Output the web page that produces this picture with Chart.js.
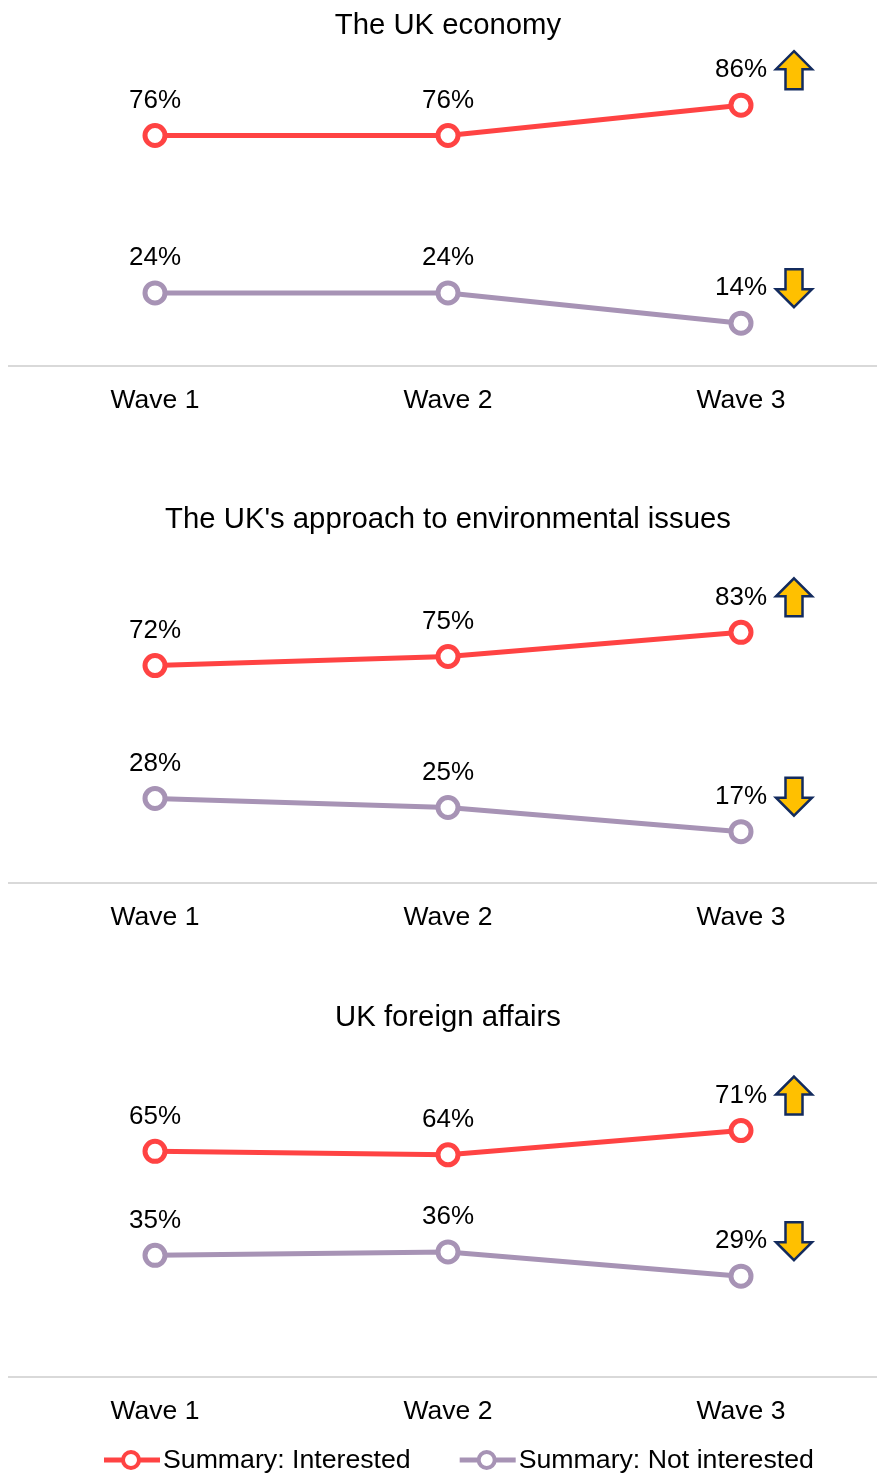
<!DOCTYPE html>
<html>
<head>
<meta charset="utf-8">
<script src="https://cdn.jsdelivr.net/npm/chart.js@4/dist/chart.umd.min.js"></script>
<style>
  html, body { margin: 0; padding: 0; background: #fff; width: 877px; height: 1475px; overflow: hidden; }
  .panel { position: absolute; left: 0; width: 890px; }
  canvas { display: block; }
</style>
</head>
<body>
<div class="panel" style="top:0px"><canvas id="economy" width="890" height="440"></canvas></div>
<div class="panel" style="top:440px"><canvas id="environment" width="890" height="516"></canvas></div>
<div class="panel" style="top:956px"><canvas id="foreign" width="890" height="519"></canvas></div>
<script>
// ---- data ----
const waves = ['Wave 1', 'Wave 2', 'Wave 3'];
const seriesNames = ['Summary: Interested', 'Summary: Not interested'];

const economyTitle = 'The UK economy';
const economyInterested = [76, 76, 86];
const economyNotInterested = [24, 24, 14];
const economyChange = ['up', 'down'];

const environmentTitle = "The UK's approach to environmental issues";
const environmentInterested = [72, 75, 83];
const environmentNotInterested = [28, 25, 17];
const environmentChange = ['up', 'down'];

const foreignTitle = 'UK foreign affairs';
const foreignInterested = [65, 64, 71];
const foreignNotInterested = [35, 36, 29];
const foreignChange = ['up', 'down'];

// ---- styling ----
const FONT = '"Liberation Sans", Arial, Helvetica, sans-serif';
const RED = '#FF4343';
const PURPLE = '#A793B5';
const seriesColors = [RED, PURPLE];

// value labels above every point
const valueLabels = {
  id: 'valueLabels',
  afterDatasetsDraw(chart) {
    const ctx = chart.ctx;
    ctx.save();
    ctx.font = '26px ' + FONT;
    ctx.fillStyle = '#000';
    ctx.textAlign = 'center';
    ctx.textBaseline = 'middle';
    chart.data.datasets.forEach((ds, i) => {
      chart.getDatasetMeta(i).data.forEach((pt, j) => {
        ctx.fillText(ds.data[j] + '%', pt.x, pt.y - 35);
      });
    });
    ctx.restore();
  }
};

// yellow up/down arrows beside the latest wave
function drawArrow(ctx, cx, cy, dir) {
  const s = dir === 'up' ? -1 : 1;   // tip direction
  const hw = 18, sw = 8.5, head = 18, shaft = 20;
  const back = cy - s * (head + shaft) / 2;
  const tip = cy + s * (head + shaft) / 2;
  const wing = tip - s * head;
  ctx.beginPath();
  ctx.moveTo(cx, tip);
  ctx.lineTo(cx + hw, wing);
  ctx.lineTo(cx + sw, wing);
  ctx.lineTo(cx + sw, back);
  ctx.lineTo(cx - sw, back);
  ctx.lineTo(cx - sw, wing);
  ctx.lineTo(cx - hw, wing);
  ctx.closePath();
  ctx.fillStyle = '#FFC000';
  ctx.fill();
  ctx.lineWidth = 2.5;
  ctx.lineJoin = 'miter';
  ctx.strokeStyle = '#132B5E';
  ctx.stroke();
}

const trendArrows = {
  id: 'trendArrows',
  afterDatasetsDraw(chart, args, opts) {
    const ctx = chart.ctx;
    ctx.save();
    (opts.directions || []).forEach((dir, i) => {
      const pts = chart.getDatasetMeta(i).data;
      const pt = pts[pts.length - 1];
      drawArrow(ctx, pt.x + 53, pt.y - 35, dir);
    });
    ctx.restore();
  }
};

// legend with line-and-marker swatches
const lineLegend = {
  id: 'lineLegend',
  afterDraw(chart, args, opts) {
    if (!opts.show) return;
    const ctx = chart.ctx;
    ctx.save();
    ctx.font = '26.7px ' + FONT;
    ctx.textBaseline = 'middle';
    ctx.textAlign = 'left';
    let x = opts.startX;
    const y = opts.y;
    chart.data.datasets.forEach((ds) => {
      ctx.strokeStyle = ds.borderColor;
      ctx.lineWidth = 5;
      ctx.beginPath();
      ctx.moveTo(x, y);
      ctx.lineTo(x + 56, y);
      ctx.stroke();
      ctx.beginPath();
      ctx.arc(x + 27, y, 8, 0, Math.PI * 2);
      ctx.fillStyle = '#fff';
      ctx.fill();
      ctx.lineWidth = 4;
      ctx.stroke();
      ctx.fillStyle = '#000';
      ctx.fillText(ds.label, x + 59, y + 1);
      x += 59 + ctx.measureText(ds.label).width + 49;
    });
    ctx.restore();
  }
};

function makeChart(id, title, interested, notInterested, change, lay) {
  const data = [interested, notInterested];
  return new Chart(document.getElementById(id), {
    type: 'line',
    data: {
      labels: waves,
      datasets: data.map((values, i) => ({
        label: seriesNames[i],
        data: values,
        borderColor: seriesColors[i],
        backgroundColor: '#fff',
        pointBackgroundColor: '#fff',
        pointBorderColor: seriesColors[i],
        borderWidth: 5,
        pointRadius: 10,
        pointHoverRadius: 10,
        pointBorderWidth: 5,
        tension: 0,
        clip: false
      }))
    },
    options: {
      responsive: false,
      animation: false,
      events: [],
      layout: { autoPadding: false, padding: { left: 8.5, right: 2.5, top: 0, bottom: lay.padBottom } },
      plugins: {
        legend: { display: false },
        tooltip: { enabled: false },
        title: {
          display: true,
          text: title,
          color: '#000',
          font: { family: FONT, size: 29.3, weight: 'normal', lineHeight: 1 },
          padding: { top: lay.titleTop, bottom: lay.titleBottom }
        },
        trendArrows: { directions: change },
        lineLegend: { show: !!lay.legend, startX: 104, y: lay.legendY }
      },
      scales: {
        x: {
          offset: true,
          grid: { display: false, drawTicks: false },
          border: { display: true, color: '#D9D9D9', width: 2 },
          ticks: { color: '#000', padding: 19, font: { family: FONT, size: 26.5, lineHeight: 1.2 } }
        },
        y: { display: false, min: 0, max: 100 }
      }
    },
    plugins: [valueLabels, trendArrows, lineLegend]
  });
}

makeChart('economy', economyTitle, economyInterested, economyNotInterested, economyChange,
  { titleTop: 11.6, titleBottom: 21.9, padBottom: 4.6 });
makeChart('environment', environmentTitle, environmentInterested, environmentNotInterested, environmentChange,
  { titleTop: 65.6, titleBottom: 46.1, padBottom: 3.2 });
makeChart('foreign', foreignTitle, foreignInterested, foreignNotInterested, foreignChange,
  { titleTop: 47.2, titleBottom: -2.5, padBottom: 28.5, legend: true, legendY: 504 });
</script>
</body>
</html>
